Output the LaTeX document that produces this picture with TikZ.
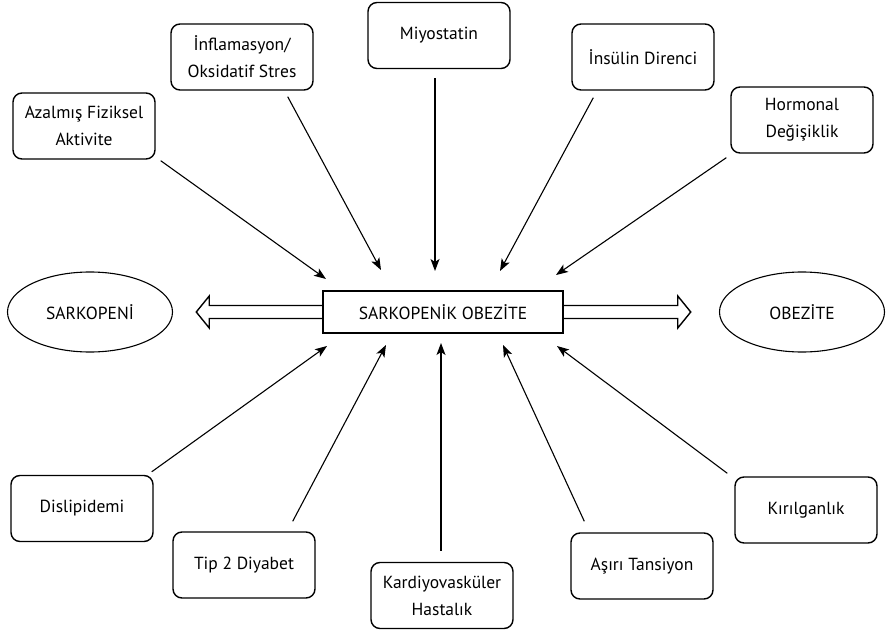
\documentclass[tikz,border=0pt]{standalone}
\usepackage{fontspec}
\setmainfont{PT Sans}
\usetikzlibrary{arrows.meta,shapes.geometric}
\begin{document}
\begin{tikzpicture}[x=1pt,y=-1pt,
  factor/.style={draw,line width=1.4pt,rounded corners=9pt,minimum width=142pt,minimum height=66pt,align=center,font=\fontsize{17.5}{27}\selectfont},
  state/.style={draw,ellipse,line width=1.1pt,minimum width=165pt,minimum height=80pt,font=\fontsize{17.5}{27}\selectfont},
  link/.style={line width=1.1pt,-{Stealth[length=12pt,width=9pt,inset=3pt]}},
  hollow/.style={line width=1.4pt,line join=miter}]

\useasboundingbox (0,0) rectangle (886,631);

\node[draw,line width=1.5pt,minimum width=240pt,minimum height=42pt,font=\fontsize{17.5}{27}\selectfont] (core) at (443,312) {SARKOPENİK OBEZİTE};
\node[state] (sark) at (90,312) {SARKOPENİ};
\node[state] (obez) at (802,312) {OBEZİTE};

\node[factor] (azal) at (84,126) {Azalmış Fiziksel\\Aktivite};
\node[factor] (infl) at (242,57) {İnflamasyon/\\Oksidatif Stres};
\node[factor] (miyo) at (439,35.5) {Miyostatin};
\node[factor] (insu) at (643,57) {İnsülin Direnci};
\node[factor] (horm) at (802,120) {Hormonal\\Değişiklik};
\node[factor] (dysl) at (82,508.5) {Dislipidemi};
\node[factor] (tip2) at (244,565) {Tip 2 Diyabet};
\node[factor] (kard) at (442,595.5) {Kardiyovasküler\\Hastalık};
\node[factor] (asir) at (642,566) {Aşırı Tansiyon};
\node[factor] (kiri) at (806,510) {Kırılganlık};

\coordinate (t1) at (326,279);
\coordinate (t2) at (381,270);
\coordinate (t3) at (435,271);
\coordinate (t4) at (500,271);
\coordinate (t5) at (556,275);
\coordinate (b1) at (327,346);
\coordinate (b2) at (386,345);
\coordinate (b3) at (441,343);
\coordinate (b4) at (503,345);
\coordinate (b5) at (557,346);

\draw[link] ([xshift=5pt,yshift=-1pt]azal.south east) -- (t1);
\draw[link] ([xshift=-26pt,yshift=-6pt]infl.south east) -- (t2);
\draw[link] ([xshift=-4pt,yshift=-9pt]miyo.south) -- (t3);
\draw[link] ([xshift=22pt,yshift=-7pt]insu.south west) -- (t4);
\draw[link] ([xshift=-4pt,yshift=-4pt]horm.south west) -- (t5);
\draw[link] ([xshift=-2pt,yshift=3pt]dysl.north east) -- (b1);
\draw[link] ([xshift=-23pt,yshift=10pt]tip2.north east) -- (b2);
\draw[link] ([xshift=-1pt,yshift=11pt]kard.north) -- (b3);
\draw[link] ([xshift=14pt,yshift=11pt]asir.north west) -- (b4);
\draw[link] ([xshift=-7pt,yshift=3pt]kiri.north west) -- (b5);

\draw[hollow] ([yshift=6.5pt]core.west) -- ++(-113,0) -- ++(0,-9.5) -- ++(-13,16) -- ++(13,16) -- ++(0,-9.5) -- ([yshift=-6.5pt]core.west);
\draw[hollow] ([yshift=6.5pt]core.east) -- ++(114,0) -- ++(0,-9.5) -- ++(13,16) -- ++(-13,16) -- ++(0,-9.5) -- ([yshift=-6.5pt]core.east);
\end{tikzpicture}
\end{document}
